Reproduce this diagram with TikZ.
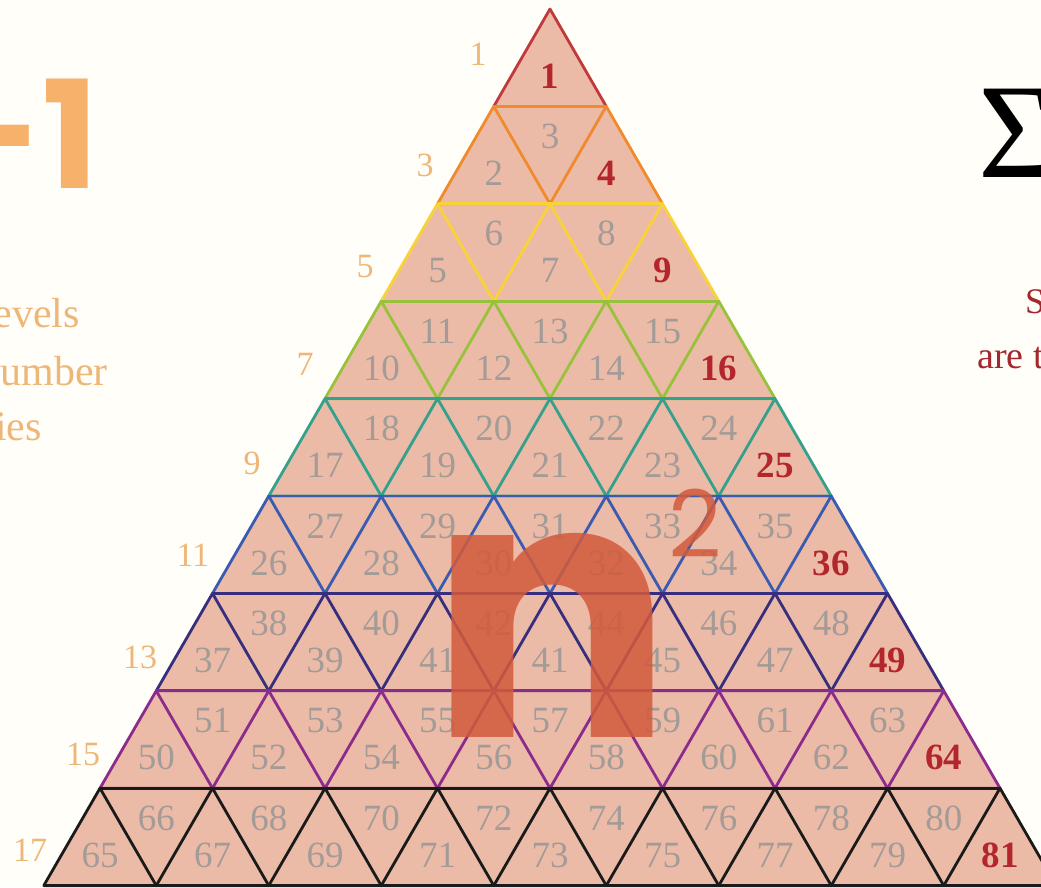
\documentclass[tikz,border=0pt]{standalone}
\usepackage{fontspec}
\setmainfont{Liberation Serif}
\newfontfamily\popfont{Poppins}
\definecolor{bgc}{HTML}{FFFEF9}
\definecolor{tri}{HTML}{ECBBA7}
\definecolor{numgrey}{HTML}{A39B97}
\definecolor{numred}{HTML}{B3262B}
\definecolor{lab}{HTML}{EDB77A}
\definecolor{bigorange}{HTML}{F6B26B}
\definecolor{ncol}{HTML}{D25A3C}
\definecolor{darkred}{HTML}{A3282E}
\definecolor{rca}{HTML}{C0393B}
\definecolor{rcb}{HTML}{F08A2C}
\definecolor{rcc}{HTML}{F9D238}
\definecolor{rcd}{HTML}{98C23C}
\definecolor{rce}{HTML}{35A08C}
\definecolor{rcf}{HTML}{3A5BB0}
\definecolor{rcg}{HTML}{372E7E}
\definecolor{rch}{HTML}{8B2C8C}
\definecolor{rci}{HTML}{1A1A1A}
\tikzset{
  rowline/.style={line width=2.8pt, line join=round},
  greynum/.style={text=numgrey, font=\fontsize{37}{37}\selectfont, inner sep=0pt},
  rednum/.style={text=numred, font=\fontsize{37}{37}\selectfont\bfseries, inner sep=0pt},
  rowlab/.style={text=lab, font=\fontsize{34}{34}\selectfont, inner sep=0pt},
  sidetext/.style={text=lab, font=\fontsize{42}{42}\selectfont, inner sep=0pt},
  redtext/.style={text=darkred, inner sep=0pt}
}
\begin{document}
\begin{tikzpicture}[x=1pt,y=-1pt]
\useasboundingbox (0,0) rectangle (1041,887);
\fill[bgc] (0,0) rectangle (1041,887);
% big triangle fill
\fill[tri] (550,9) -- (1056.25,885.6) -- (43.75,885.6) -- cycle;
% rows of small triangles
\foreach \k/\c in {1/rca,2/rcb,3/rcc,4/rcd,5/rce,6/rcf,7/rcg,8/rch,9/rci}{
  \pgfmathsetmacro\yT{9+(\k-1)*97.4}
  \pgfmathsetmacro\yB{9+\k*97.4}
  \pgfmathsetmacro\xL{550-\k*56.25}
  \foreach \i in {1,...,\k}{
    \draw[rowline,draw=\c] (\xL+\i*112.5-112.5,\yB) -- ++(112.5,0) -- ++(-56.25,-97.4) -- cycle;
  }
  \ifnum\k>1
    \draw[rowline,draw=\c] (\xL+56.25,\yT) -- (1043.75-\xL,\yT);
  \fi
}
% numbers
\foreach \k in {1,...,9}{
  \pgfmathtruncatemacro\m{2*\k-1}
  \foreach \j in {1,...,\m}{
    \pgfmathtruncatemacro\n{(\k-1)*(\k-1)+\j}
    \pgfmathsetmacro\xx{550+56.25*(\j-\k)}
    \ifodd\j\relax
      \pgfmathsetmacro\yy{9+(\k-1)*97.4+67}
    \else
      \pgfmathsetmacro\yy{9+(\k-1)*97.4+30}
    \fi
    \ifnum\j=\m\relax
      \node[rednum] (n\n) at (\xx,\yy) {\n};
    \else
      \ifnum\n=43\relax
        \node[greynum] (n\n) at (\xx,\yy) {41};
      \else
        \node[greynum] (n\n) at (\xx,\yy) {\n};
      \fi
    \fi
  }
}
% row labels
\node[rowlab] (l1) at (478,54) {1};
\node[rowlab] (l3) at (425,165) {3};
\node[rowlab] (l5) at (365,267) {5};
\node[rowlab] (l7) at (305,364) {7};
\node[rowlab] (l9) at (252,463) {9};
\node[rowlab] (l11) at (193,555) {11};
\node[rowlab] (l13) at (140,657) {13};
\node[rowlab] (l15) at (83,754) {15};
\node[rowlab] (l17) at (30,850) {17};
% n squared
\node[text=ncol, text opacity=0.86, font=\popfont\bfseries\fontsize{362}{362}\selectfont, inner sep=0pt, anchor=base] (nn) at (551,737) {n};
\node[text=ncol, text opacity=0.86, font=\popfont\fontsize{93}{93}\selectfont, inner sep=0pt, anchor=base] (two) at (695,557) {2};
% left side texts
\node[text=bigorange, font=\popfont\bfseries\fontsize{150}{150}\selectfont, inner sep=0pt, anchor=base east] (m1) at (99,188) {-1};
\node[sidetext, anchor=base east] (t1) at (80,327) {evels};
\node[sidetext, anchor=base east] (t2) at (108,385) {umber};
\node[sidetext, anchor=base east] (t3) at (42,440) {ies};
% right side texts
\node[text=black, font=\fontsize{135}{135}\selectfont, inner sep=0pt, anchor=base west] (sig) at (978,177) {Σ};
\node[redtext, font=\fontsize{36}{36}\selectfont, anchor=base west] (s1) at (1025,313) {S};
\node[redtext, font=\fontsize{38}{38}\selectfont, anchor=base west] (s2) at (977,368) {are t};
\end{tikzpicture}
\end{document}
